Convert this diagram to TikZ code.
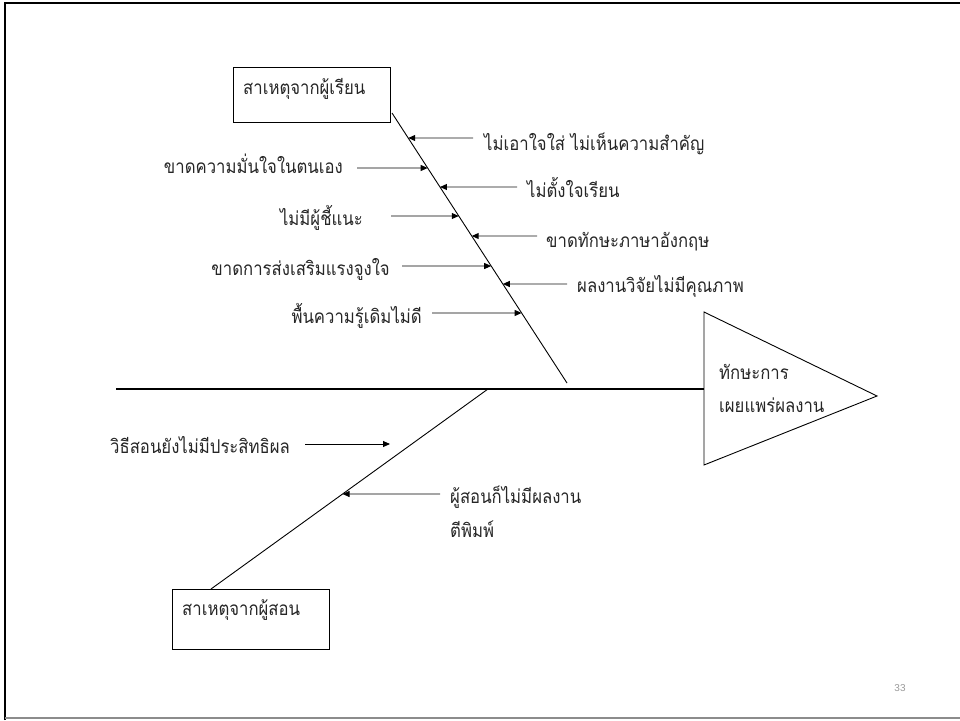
\documentclass[tikz,border=0pt]{standalone}
\usepackage{fontspec}
\newfontfamily\thaifont[Script=Thai,FakeStretch=0.88]{Loma}
\setmainfont{Liberation Sans}
\usetikzlibrary{arrows.meta,calc}
\begin{document}
\begin{tikzpicture}[x=1pt,y=-1pt,
  thtext/.style={font=\thaifont\fontsize{19}{22}\selectfont, text=black!85, inner sep=0pt},
  causebox/.style={draw, line width=0.9pt, anchor=north west, inner sep=0pt},
  bone/.style={line width=0.9pt},
  spine/.style={line width=1.4pt},
  larrow/.style={line width=0.9pt, -{Triangle[length=7pt,width=6pt]}},
  rarrow/.style={line width=1.1pt, draw=black!50, -{Triangle[length=7pt,width=6pt,color=black]}}]
\useasboundingbox (0,0) rectangle (960,720);
% slide frame
\draw[line width=2pt] (5,720) -- (5,3) -- (960,3);
\draw[line width=1.5pt, black!45] (5,718) -- (960,718);

% boxes
\node[causebox, minimum width=157pt, minimum height=55pt] (stu) at (233,67) {};
\node[thtext, anchor=base west] (stut) at (243,94) {สาเหตุจากผู้เรียน};
\node[causebox, minimum width=157pt, minimum height=60pt] (tea) at (172,589) {};
\node[thtext, anchor=base west] (teat) at (182,615) {สาเหตุจากผู้สอน};

% triangle head
\coordinate (ta) at (704,312);
\coordinate (tb) at (704,465);
\coordinate (tc) at (877,396);
\draw[bone] (ta) -- (tc) -- (tb) -- cycle;
\node[thtext, anchor=base west] (h1) at (719,379) {ทักษะการ};
\node[thtext, anchor=base west] (h2) at (719,412) {เผยแพร่ผลงาน};

% spine
\coordinate (s0) at (116,389);
\coordinate (s1) at (704,389);
\draw[spine] (s0) -- (s1);

% upper bone
\coordinate (u1) at (392,113);
\coordinate (u2) at (567,383);
\draw[bone] (u1) -- (u2);

% lower bone
\coordinate (l1) at (488,389);
\coordinate (l2) at (211,589);
\draw[bone] (l1) -- (l2);

% right side causes (upper)
\node[thtext, anchor=base west] (r1) at (484,150) {ไม่เอาใจใส่ ไม่เห็นความสำคัญ};
\node[thtext, anchor=base west] (r2) at (527,197) {ไม่ตั้งใจเรียน};
\node[thtext, anchor=base west] (r3) at (546,247) {ขาดทักษะภาษาอังกฤษ};
\node[thtext, anchor=base west] (r4) at (577,292) {ผลงานวิจัยไม่มีคุณภาพ};
\coordinate (r1a) at (473,138);
\coordinate (r2a) at (517,187);
\coordinate (r3a) at (537,236);
\coordinate (r4a) at (567,284);
\draw[rarrow] (r1a) -- ($(u1)!0.0926!(u2)$);
\draw[rarrow] (r2a) -- ($(u1)!0.2741!(u2)$);
\draw[rarrow] (r3a) -- ($(u1)!0.4556!(u2)$);
\draw[rarrow] (r4a) -- ($(u1)!0.6333!(u2)$);

% left side causes (upper)
\node[thtext, anchor=base east] (q1) at (343,173) {ขาดความมั่นใจในตนเอง};
\node[thtext, anchor=base east] (q2) at (363,225) {ไม่มีผู้ชี้แนะ};
\node[thtext, anchor=base east] (q3) at (390,275) {ขาดการส่งเสริมแรงจูงใจ};
\node[thtext, anchor=base east] (q4) at (422,323) {พื้นความรู้เดิมไม่ดี};
\coordinate (q1a) at (357,168);
\coordinate (q2a) at (391,216);
\coordinate (q3a) at (402,266);
\coordinate (q4a) at (432,313);
\draw[larrow] (q1a) -- ($(u1)!0.2037!(u2)$);
\draw[larrow] (q2a) -- ($(u1)!0.3815!(u2)$);
\draw[larrow] (q3a) -- ($(u1)!0.5667!(u2)$);
\draw[larrow] (q4a) -- ($(u1)!0.7407!(u2)$);

% lower causes
\node[thtext, anchor=base west] (p1) at (110,453) {วิธีสอนยังไม่มีประสิทธิผล};
\coordinate (p1a) at (305,444);
\coordinate (p1b) at (390,444);
\draw[larrow] (p1a) -- (p1b);
\node[thtext, anchor=base west] (p2) at (450,503) {ผู้สอนก็ไม่มีผลงาน};
\node[thtext, anchor=base west] (p2b) at (450,537) {ตีพิมพ์};
\coordinate (p2a) at (440,494);
\draw[larrow] (p2a) -- ($(l1)!0.525!(l2)$);

% page number
\node[font=\fontsize{10}{11}\selectfont, text=black!40, inner sep=0pt] (pg) at (900,688) {33};
\end{tikzpicture}
\end{document}
